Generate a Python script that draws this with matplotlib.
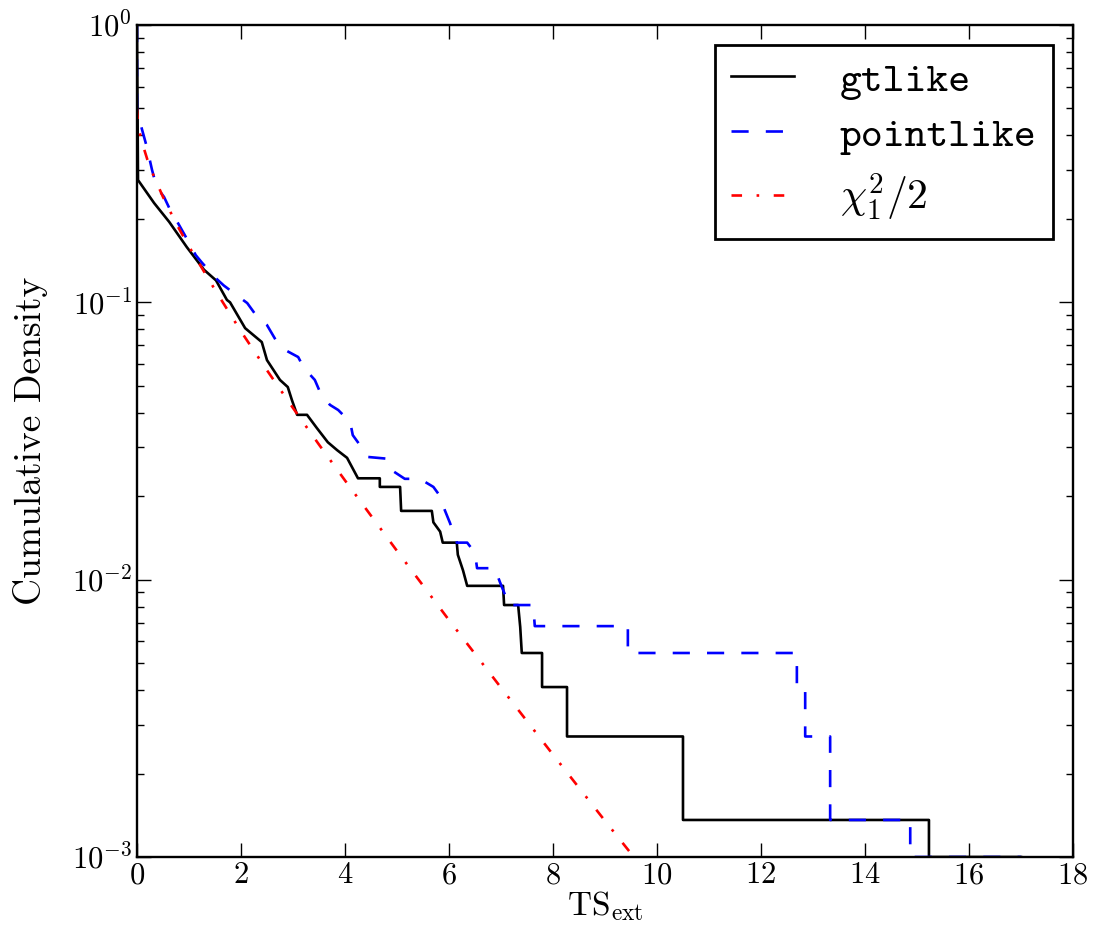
import numpy as np
import matplotlib
matplotlib.use("Agg")
import matplotlib.pyplot as plt

plt.rcParams['mathtext.fontset'] = 'cm'
plt.rcParams['font.family'] = 'cmr10'
plt.rcParams['axes.formatter.use_mathtext'] = True

# Cumulative density of the extension test statistic (path vertices)
gtlike_ts = [0.00, 0.02, 0.33, 0.62, 0.96, 1.29, 1.52, 1.73, 1.79, 2.08, 2.40, 2.50,
             2.75, 2.90, 2.98, 3.08, 3.27, 3.46, 3.67, 3.85, 4.04, 4.25, 4.67, 4.67,
             5.06, 5.08, 5.67, 5.70, 5.83, 5.88, 6.15, 6.17, 6.27, 6.35, 7.04, 7.06,
             7.33, 7.37, 7.40, 7.79, 7.79, 8.27, 8.27, 10.50, 10.50, 15.23, 15.23, 17.0]
gtlike_cd = [1.0, 0.276, 0.228, 0.195, 0.158, 0.131, 0.120, 0.102, 0.100, 0.0807, 0.0719, 0.0619,
             0.0525, 0.0495, 0.0444, 0.0393, 0.0393, 0.0352, 0.0313, 0.0293, 0.0275, 0.0232, 0.0232, 0.0216,
             0.0216, 0.0177, 0.0177, 0.0161, 0.0149, 0.0136, 0.0136, 0.0123, 0.0108, 0.0095, 0.0095, 0.0081,
             0.0081, 0.00675, 0.00544, 0.00544, 0.0041, 0.0041, 0.00272, 0.00272, 0.00136, 0.00136, 0.001, 0.001]

pointlike_ts = [0.00, 0.00, 0.10, 0.19, 0.29, 0.38, 0.52, 0.62, 0.81, 0.94, 1.13, 1.25, 1.52, 1.67,
                1.92, 2.12, 2.33, 2.50, 2.69, 2.85, 3.10, 3.21, 3.42, 3.52, 3.71, 3.87, 4.10,
                4.15, 4.33, 4.44, 4.81, 4.90, 5.15, 5.44, 5.70, 5.83, 5.92, 6.02, 6.15, 6.35,
                6.50, 6.54, 6.88, 6.98, 7.08, 7.12, 7.62, 7.65, 9.44, 9.44, 12.69, 12.69,
                12.85, 12.85, 13.33, 13.33, 14.87, 14.87, 17.0]
pointlike_cd = [1.0, 0.49, 0.418, 0.363, 0.300, 0.260, 0.240, 0.219, 0.190, 0.172, 0.148, 0.139, 0.122, 0.115,
                0.106, 0.0994, 0.0877, 0.0828, 0.0720, 0.0673, 0.0635, 0.0580, 0.0525, 0.0475, 0.0427, 0.0409, 0.0370,
                0.0332, 0.0298, 0.0277, 0.0273, 0.0248, 0.0231, 0.0231, 0.0216, 0.0200, 0.0178, 0.0160, 0.0136, 0.0136,
                0.0125, 0.0110, 0.0110, 0.0098, 0.0088, 0.0081, 0.0081, 0.0068, 0.0068, 0.00544, 0.00544, 0.0041,
                0.0041, 0.00272, 0.00272, 0.00136, 0.00136, 0.001, 0.001]

# chi^2_1 / 2 reference curve
chi_ts = [0.0, 0.02, 0.05, 0.1, 0.2, 0.3, 0.5, 0.75, 1.0, 1.5, 2.0, 2.5, 3.0, 3.5,
          4.0, 5.0, 6.0, 7.0, 8.0, 9.0, 9.5, 10.0]
chi_cd = [0.5, 0.44, 0.41, 0.376, 0.327, 0.292, 0.240, 0.193, 0.159, 0.111, 0.0786, 0.0569, 0.0416, 0.0307,
          0.0228, 0.0127, 0.00715, 0.00408, 0.00234, 0.00135, 0.00103, 0.00078]

fig = plt.figure(figsize=(10.94, 9.40), dpi=100)
ax = fig.add_axes([0.1252, 0.0883, 0.8556, 0.8851])

ax.plot(gtlike_ts, gtlike_cd, color='black', lw=1.9, label='gtlike')
ax.plot(pointlike_ts, pointlike_cd, color='blue', lw=1.9, linestyle=(0, (6.5, 6.5)), label='pointlike')
ax.plot(chi_ts, chi_cd, color='red', lw=1.9, linestyle=(0, (4.0, 5.5, 1.0, 5.5)), label=r'$\chi^2_1/2$')

ax.set_yscale('log')
ax.set_xlim(0, 18)
ax.set_ylim(1e-3, 1)
ax.set_xticks(np.arange(0, 19, 2))

for s in ax.spines.values():
    s.set_linewidth(1.7)
ax.tick_params(which='both', direction='in', top=True, right=True, labelsize=22)
ax.tick_params(which='major', length=10, width=1)
ax.tick_params(which='minor', length=5, width=1)

ax.set_xlabel(r'$\mathrm{TS}_{\mathrm{ext}}$', fontsize=24, labelpad=0)
ax.set_ylabel('Cumulative Density', fontsize=27, labelpad=17)

leg = ax.legend(loc='upper right', bbox_to_anchor=(0.9786, 0.976), borderaxespad=0,
                prop={'family': 'cmtt10', 'size': 30}, handlelength=1.5,
                handletextpad=1.1, labelspacing=0.4, fancybox=False, framealpha=1)
leg.get_frame().set_edgecolor('black')
leg.get_frame().set_linewidth(2)

fig.savefig('out.png', dpi=100)
